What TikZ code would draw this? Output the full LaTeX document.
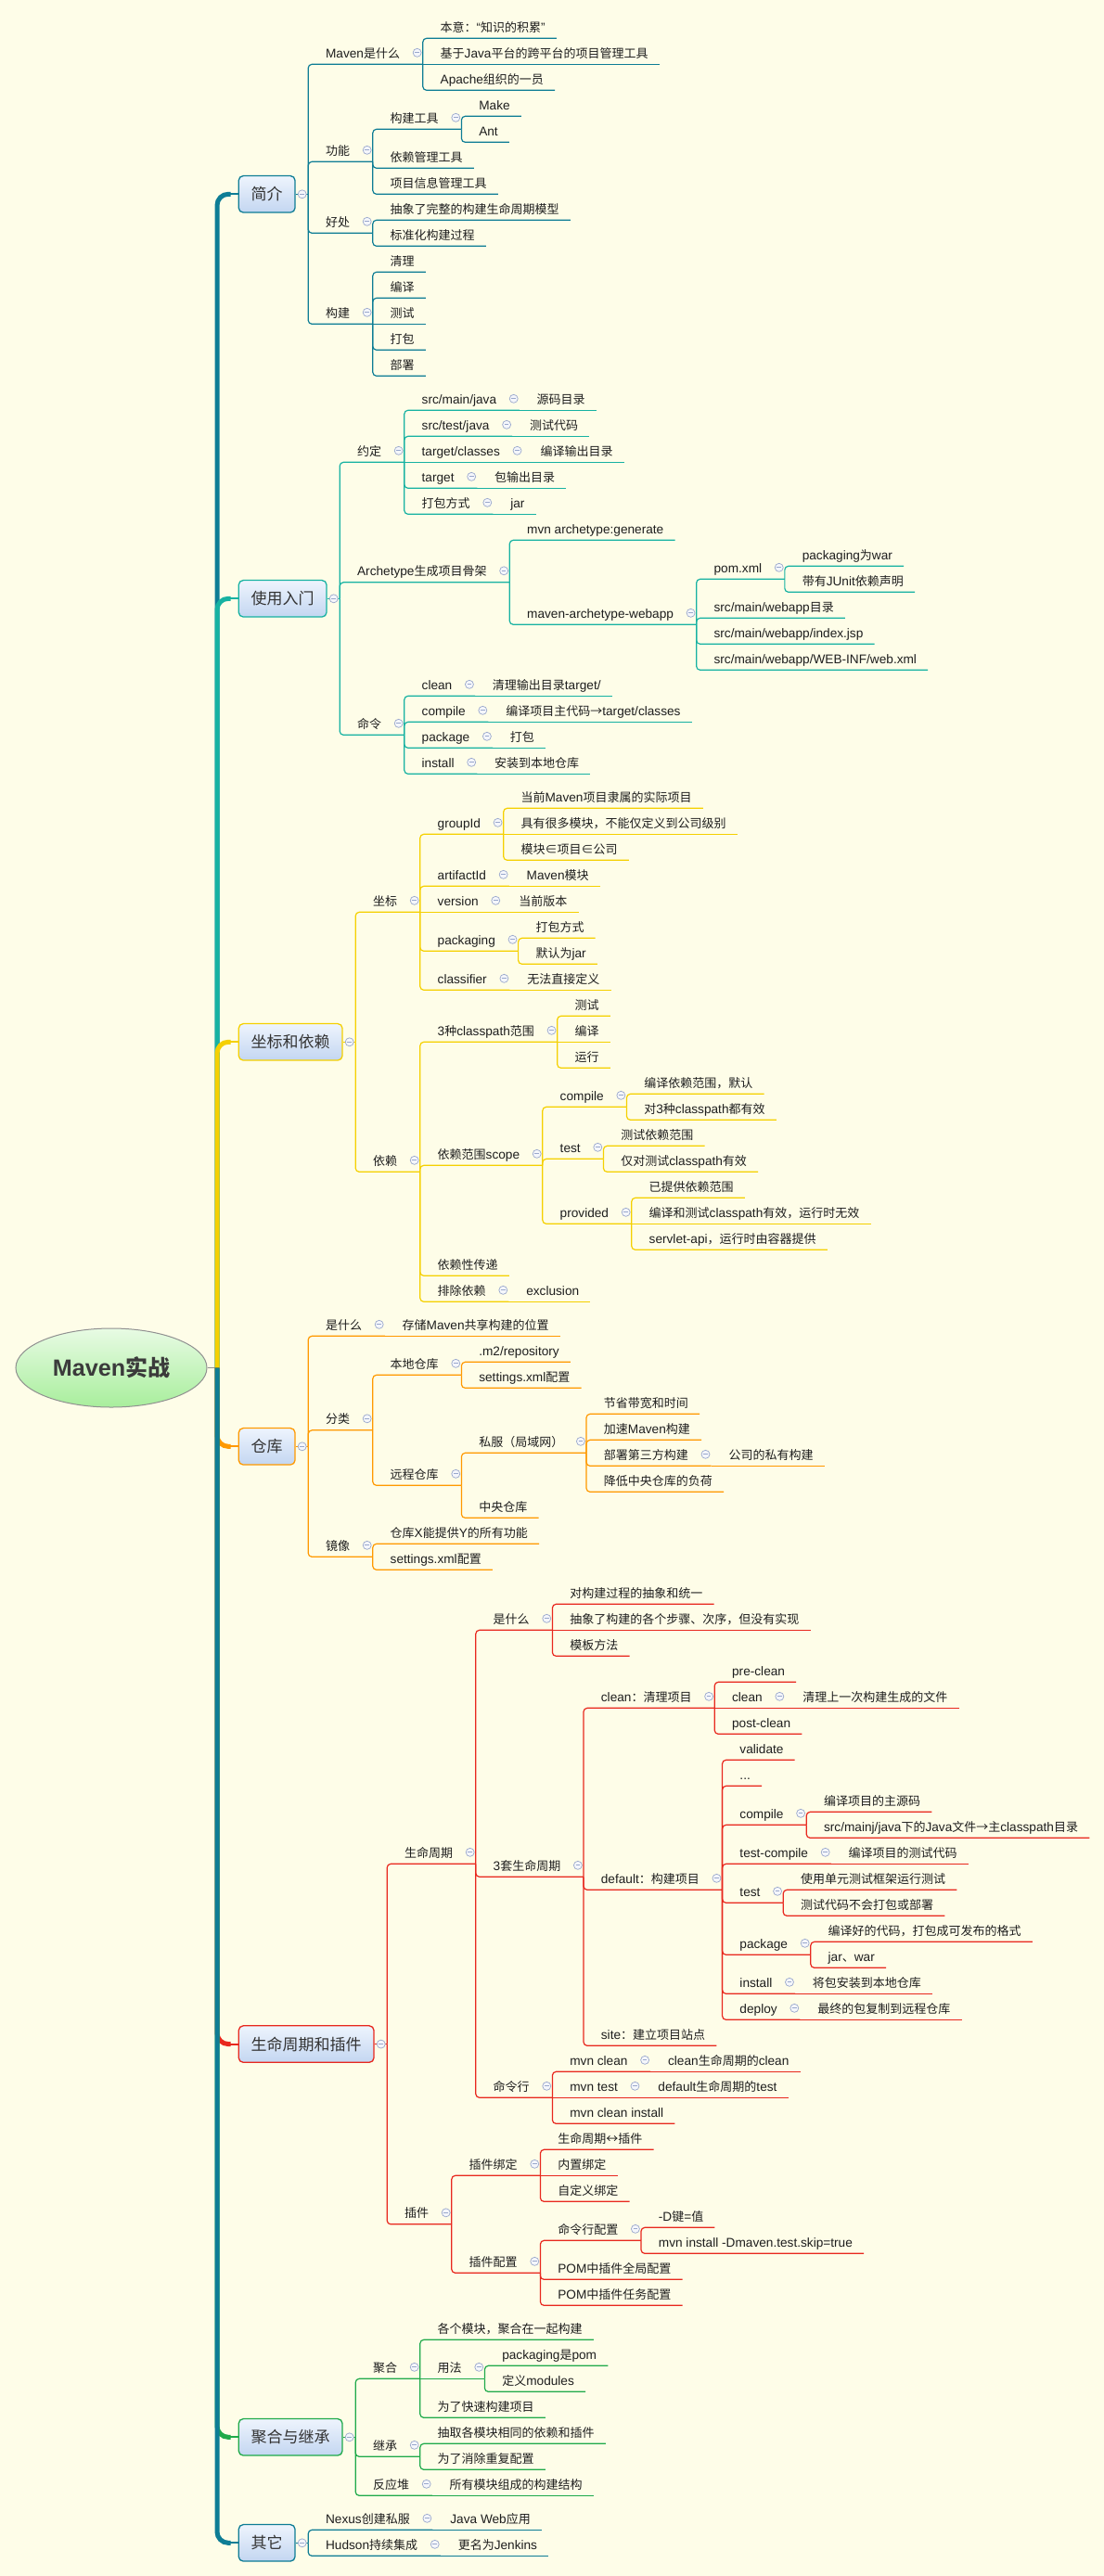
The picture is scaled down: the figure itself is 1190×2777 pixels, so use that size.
\documentclass[tikz,border=0pt]{standalone}
\usepackage{fontspec}
\setmainfont{Liberation Sans}[Scale=1.05]
\newfontfamily\latf{Liberation Sans}[Scale=1.05]
\newfontfamily\cjkf{Noto Sans CJK SC}
\usetikzlibrary{shapes.geometric}
\makeatletter
\chardef\mmcls=10
\def\mmsetcls#1#2{\@tempcnta=#1\relax
  \loop\XeTeXcharclass\@tempcnta=\mmcls\relax
  \ifnum\@tempcnta<#2\relax\advance\@tempcnta\@ne\repeat}
\mmsetcls{"2E80}{"9FFF}
\mmsetcls{"FF00}{"FFEF}
\XeTeXcharclass"2208=\mmcls
\XeTeXcharclass"2192=\mmcls
\XeTeXcharclass"2194=\mmcls
\makeatother
\XeTeXinterchartoks 0 \mmcls = {\cjkf}
\XeTeXinterchartoks 4095 \mmcls = {\cjkf}
\XeTeXinterchartoks \mmcls 0 = {\latf}
\XeTeXinterchartoks \mmcls 4095 = {\latf}
\XeTeXinterchartokenstate=1

\definecolor{bg}{HTML}{FEFDE8}
\definecolor{txtc}{HTML}{1E1E1E}
\definecolor{l1txt}{HTML}{333333}
\definecolor{col1}{HTML}{0E7D95}
\definecolor{col2}{HTML}{17B2A2}
\definecolor{col3}{HTML}{F5D000}
\definecolor{col4}{HTML}{FF9900}
\definecolor{col5}{HTML}{E8281E}
\definecolor{col6}{HTML}{1FAA4A}
\definecolor{col7}{HTML}{0E7D95}
\definecolor{collc}{HTML}{9AA8CC}
\definecolor{collf}{HTML}{F4F6FB}
\definecolor{boxt}{HTML}{EEF4FD}
\definecolor{boxb}{HTML}{C3D6F1}
\definecolor{roott}{HTML}{E8FBE4}
\definecolor{rootb}{HTML}{A8EE9C}
\definecolor{rootd}{HTML}{909090}
\definecolor{roottxt}{HTML}{3B3B3B}

\tikzset{
 txt/.style={inner sep=0pt, text=txtc, font=\fontsize{13}{15}\selectfont},
 br/.style={draw=#1, line width=1.2pt, rounded corners=4pt},
 cur/.style={br=col1},
 coll/.style={circle, draw=collc, fill=collf, line width=0.7pt, minimum size=9pt, inner sep=0pt,
   path picture={\draw[collc, line width=0.8pt] ([xshift=-2.3pt]path picture bounding box.center) -- ([xshift=2.3pt]path picture bounding box.center);}},
 l1box/.style={draw=#1, line width=1.3pt, rounded corners=5pt, top color=boxt, bottom color=boxb,
   minimum height=39.5pt, inner xsep=13.4pt, inner ysep=0pt, text=l1txt, font=\fontsize{17}{19}\selectfont},
 trunkline/.style={draw=#1, line width=5pt, rounded corners=12pt},
 trunkstub/.style={draw=#1, line width=2pt},
}

% leaf, elbow
\newcommand\mmL[4]{%
  \node[txt, anchor=base west, xshift=18.7pt, yshift=7pt] (#1) at (#2 |- 0,#3) {#4};
  \coordinate (#1-e) at ([xshift=12pt, yshift=-7pt]#1.base east);
  \draw[cur] (#2) |- (#1-e);}
% leaf, same line as parent
\newcommand\mmLh[4]{%
  \node[txt, anchor=base west, xshift=18.7pt, yshift=7pt] (#1) at (#2 |- 0,#3) {#4};
  \coordinate (#1-e) at ([xshift=12pt, yshift=-7pt]#1.base east);
  \draw[cur] (#2) -- (#1-e);}
% parent, elbow
\newcommand\mmP[4]{%
  \node[txt, anchor=base west, xshift=18.7pt, yshift=7pt] (#1) at (#2 |- 0,#3) {#4};
  \coordinate (#1-j) at ([xshift=24.5pt, yshift=-7pt]#1.base east);
  \draw[cur] (#2) |- (#1-j);
  \node[coll] (#1-c) at ([xshift=18.4pt, yshift=5.5pt]#1.base east) {};}
% parent, same line as parent
\newcommand\mmPh[4]{%
  \node[txt, anchor=base west, xshift=18.7pt, yshift=7pt] (#1) at (#2 |- 0,#3) {#4};
  \coordinate (#1-j) at ([xshift=24.5pt, yshift=-7pt]#1.base east);
  \draw[cur] (#2) -- (#1-j);
  \node[coll] (#1-c) at ([xshift=18.4pt, yshift=5.5pt]#1.base east) {};}
% level-1 box
\newcommand\mmB[4]{%
  \node[l1box=#3, anchor=west] (#1) at (256.6,#2) {#4};
  \draw[trunkline=#3] (tr) |- ([xshift=-8pt]#1.west);
  \draw[trunkstub=#3] ([xshift=-12pt]#1.west) -- (#1.west);
  \coordinate (#1-j) at ([xshift=13.5pt]#1.east);
  \draw[br=#3] (#1.east) -- (#1-j);
  \node[coll] (#1-c) at ([xshift=7pt]#1.east) {};
  \tikzset{cur/.style={br=#3}}}

\begin{document}
\begin{tikzpicture}[x=1pt,y=-1pt]
\useasboundingbox (0,0) rectangle (1190,2777);
\fill[bg] (0,0) rectangle (1190,2777);

\node[ellipse, draw=rootd, line width=1pt, top color=roott, bottom color=rootb,
  minimum width=206pt, minimum height=85pt, inner sep=0pt,
  font=\bfseries\fontsize{24}{26}\selectfont, text=roottxt] (root) at (120,1474.5) {Maven实战};
\coordinate (tr) at (234,1474.5);
\draw[rootd, line width=1pt] (root.east) -- (tr);

% ---------- 简介
\mmB{s1}{209.3}{col1}{简介}
\mmP{a1}{s1-j}{69.3}{Maven是什么}
 \mmL{a11}{a1-j}{41.3}{本意：“知识的积累”}
 \mmLh{a12}{a1-j}{69.3}{基于Java平台的跨平台的项目管理工具}
 \mmL{a13}{a1-j}{97.3}{Apache组织的一员}
\mmP{a2}{s1-j}{174.3}{功能}
 \mmP{a21}{a2-j}{139.3}{构建工具}
  \mmL{a211}{a21-j}{125.3}{Make}
  \mmL{a212}{a21-j}{153.3}{Ant}
 \mmL{a22}{a2-j}{181.3}{依赖管理工具}
 \mmL{a23}{a2-j}{209.3}{项目信息管理工具}
\mmP{a3}{s1-j}{251.3}{好处}
 \mmL{a31}{a3-j}{237.3}{抽象了完整的构建生命周期模型}
 \mmL{a32}{a3-j}{265.3}{标准化构建过程}
\mmP{a4}{s1-j}{349.3}{构建}
 \mmL{a41}{a4-j}{293.3}{清理}
 \mmL{a42}{a4-j}{321.3}{编译}
 \mmLh{a43}{a4-j}{349.3}{测试}
 \mmL{a44}{a4-j}{377.3}{打包}
 \mmL{a45}{a4-j}{405.3}{部署}

% ---------- 使用入门
\mmB{s2}{645.3}{col2}{使用入门}
\mmP{b1}{s2-j}{498.3}{约定}
 \mmP{b11}{b1-j}{442.3}{src/main/java} \mmLh{b111}{b11-j}{442.3}{源码目录}
 \mmP{b12}{b1-j}{470.3}{src/test/java} \mmLh{b121}{b12-j}{470.3}{测试代码}
 \mmPh{b13}{b1-j}{498.3}{target/classes} \mmLh{b131}{b13-j}{498.3}{编译输出目录}
 \mmP{b14}{b1-j}{526.3}{target} \mmLh{b141}{b14-j}{526.3}{包输出目录}
 \mmP{b15}{b1-j}{554.3}{打包方式} \mmLh{b151}{b15-j}{554.3}{jar}
\mmP{b2}{s2-j}{627.8}{Archetype生成项目骨架}
 \mmL{b21}{b2-j}{582.3}{mvn archetype:generate}
 \mmP{b22}{b2-j}{673.3}{maven-archetype-webapp}
  \mmP{b221}{b22-j}{624.3}{pom.xml}
   \mmL{b2211}{b221-j}{610.3}{packaging为war}
   \mmL{b2212}{b221-j}{638.3}{带有JUnit依赖声明}
  \mmL{b222}{b22-j}{666.3}{src/main/webapp目录}
  \mmL{b223}{b22-j}{694.3}{src/main/webapp/index.jsp}
  \mmL{b224}{b22-j}{722.3}{src/main/webapp/WEB-INF/web.xml}
\mmP{b3}{s2-j}{792.3}{命令}
 \mmP{b31}{b3-j}{750.3}{clean} \mmLh{b311}{b31-j}{750.3}{清理输出目录target/}
 \mmP{b32}{b3-j}{778.3}{compile} \mmLh{b321}{b32-j}{778.3}{编译项目主代码→target/classes}
 \mmP{b33}{b3-j}{806.3}{package} \mmLh{b331}{b33-j}{806.3}{打包}
 \mmP{b34}{b3-j}{834.3}{install} \mmLh{b341}{b34-j}{834.3}{安装到本地仓库}

% ---------- 坐标和依赖
\mmB{s3}{1123.3}{col3}{坐标和依赖}
\mmP{c1}{s3-j}{983.3}{坐标}
 \mmP{c11}{c1-j}{899.3}{groupId}
  \mmL{c111}{c11-j}{871.3}{当前Maven项目隶属的实际项目}
  \mmLh{c112}{c11-j}{899.3}{具有很多模块，不能仅定义到公司级别}
  \mmL{c113}{c11-j}{927.3}{模块∈项目∈公司}
 \mmP{c12}{c1-j}{955.3}{artifactId} \mmLh{c121}{c12-j}{955.3}{Maven模块}
 \mmPh{c13}{c1-j}{983.3}{version} \mmLh{c131}{c13-j}{983.3}{当前版本}
 \mmP{c14}{c1-j}{1025.3}{packaging}
  \mmL{c141}{c14-j}{1011.3}{打包方式}
  \mmL{c142}{c14-j}{1039.3}{默认为jar}
 \mmP{c15}{c1-j}{1067.3}{classifier} \mmLh{c151}{c15-j}{1067.3}{无法直接定义}
\mmP{c2}{s3-j}{1263.3}{依赖}
 \mmP{c21}{c2-j}{1123.3}{3种classpath范围}
  \mmL{c211}{c21-j}{1095.3}{测试}
  \mmLh{c212}{c21-j}{1123.3}{编译}
  \mmL{c213}{c21-j}{1151.3}{运行}
 \mmP{c22}{c2-j}{1256.3}{依赖范围scope}
  \mmP{c221}{c22-j}{1193.3}{compile}
   \mmL{c2211}{c221-j}{1179.3}{编译依赖范围，默认}
   \mmL{c2212}{c221-j}{1207.3}{对3种classpath都有效}
  \mmP{c222}{c22-j}{1249.3}{test}
   \mmL{c2221}{c222-j}{1235.3}{测试依赖范围}
   \mmL{c2222}{c222-j}{1263.3}{仅对测试classpath有效}
  \mmP{c223}{c22-j}{1319.3}{provided}
   \mmL{c2231}{c223-j}{1291.3}{已提供依赖范围}
   \mmLh{c2232}{c223-j}{1319.3}{编译和测试classpath有效，运行时无效}
   \mmL{c2233}{c223-j}{1347.3}{servlet-api，运行时由容器提供}
 \mmL{c23}{c2-j}{1375.3}{依赖性传递}
 \mmP{c24}{c2-j}{1403.3}{排除依赖} \mmLh{c241}{c24-j}{1403.3}{exclusion}

% ---------- 仓库
\mmB{s4}{1559.3}{col4}{仓库}
\mmP{d1}{s4-j}{1440.3}{是什么} \mmLh{d11}{d1-j}{1440.3}{存储Maven共享构建的位置}
\mmP{d2}{s4-j}{1541.8}{分类}
 \mmP{d21}{d2-j}{1482.3}{本地仓库}
  \mmL{d211}{d21-j}{1468.3}{.m2/repository}
  \mmL{d212}{d21-j}{1496.3}{settings.xml配置}
 \mmP{d22}{d2-j}{1601.3}{远程仓库}
  \mmP{d221}{d22-j}{1566.3}{私服（局域网）}
   \mmL{d2211}{d221-j}{1524.3}{节省带宽和时间}
   \mmL{d2212}{d221-j}{1552.3}{加速Maven构建}
   \mmP{d2213}{d221-j}{1580.3}{部署第三方构建} \mmLh{d22131}{d2213-j}{1580.3}{公司的私有构建}
   \mmL{d2214}{d221-j}{1608.3}{降低中央仓库的负荷}
  \mmL{d222}{d22-j}{1636.3}{中央仓库}
\mmP{d3}{s4-j}{1678.3}{镜像}
 \mmL{d31}{d3-j}{1664.3}{仓库X能提供Y的所有功能}
 \mmL{d32}{d3-j}{1692.3}{settings.xml配置}

% ---------- 生命周期和插件
\mmB{s5}{2203.55}{col5}{生命周期和插件}
\mmP{e1}{s5-j}{2009.3}{生命周期}
 \mmP{e11}{e1-j}{1757.3}{是什么}
  \mmL{e111}{e11-j}{1729.3}{对构建过程的抽象和统一}
  \mmLh{e112}{e11-j}{1757.3}{抽象了构建的各个步骤、次序，但没有实现}
  \mmL{e113}{e11-j}{1785.3}{模板方法}
 \mmP{e12}{e1-j}{2023.3}{3套生命周期}
  \mmP{e121}{e12-j}{1841.3}{clean：清理项目}
   \mmL{e1211}{e121-j}{1813.3}{pre-clean}
   \mmPh{e1212}{e121-j}{1841.3}{clean} \mmLh{e12121}{e1212-j}{1841.3}{清理上一次构建生成的文件}
   \mmL{e1213}{e121-j}{1869.3}{post-clean}
  \mmP{e122}{e12-j}{2037.3}{default：构建项目}
   \mmL{e1221}{e122-j}{1897.3}{validate}
   \mmL{e1222}{e122-j}{1925.3}{...}
   \mmP{e1223}{e122-j}{1967.3}{compile}
    \mmL{e12231}{e1223-j}{1953.3}{编译项目的主源码}
    \mmL{e12232}{e1223-j}{1981.3}{src/mainj/java下的Java文件→主classpath目录}
   \mmP{e1224}{e122-j}{2009.3}{test-compile} \mmLh{e12241}{e1224-j}{2009.3}{编译项目的测试代码}
   \mmP{e1225}{e122-j}{2051.3}{test}
    \mmL{e12251}{e1225-j}{2037.3}{使用单元测试框架运行测试}
    \mmL{e12252}{e1225-j}{2065.3}{测试代码不会打包或部署}
   \mmP{e1226}{e122-j}{2107.3}{package}
    \mmL{e12261}{e1226-j}{2093.3}{编译好的代码，打包成可发布的格式}
    \mmL{e12262}{e1226-j}{2121.3}{jar、war}
   \mmP{e1227}{e122-j}{2149.3}{install} \mmLh{e12271}{e1227-j}{2149.3}{将包安装到本地仓库}
   \mmP{e1228}{e122-j}{2177.3}{deploy} \mmLh{e12281}{e1228-j}{2177.3}{最终的包复制到远程仓库}
  \mmL{e123}{e12-j}{2205.3}{site：建立项目站点}
 \mmP{e13}{e1-j}{2261.3}{命令行}
  \mmP{e131}{e13-j}{2233.3}{mvn clean} \mmLh{e1311}{e131-j}{2233.3}{clean生命周期的clean}
  \mmPh{e132}{e13-j}{2261.3}{mvn test} \mmLh{e1321}{e132-j}{2261.3}{default生命周期的test}
  \mmL{e133}{e13-j}{2289.3}{mvn clean install}
\mmP{e2}{s5-j}{2397.8}{插件}
 \mmP{e21}{e2-j}{2345.3}{插件绑定}
  \mmL{e211}{e21-j}{2317.3}{生命周期↔插件}
  \mmLh{e212}{e21-j}{2345.3}{内置绑定}
  \mmL{e213}{e21-j}{2373.3}{自定义绑定}
 \mmP{e22}{e2-j}{2450.3}{插件配置}
  \mmP{e221}{e22-j}{2415.3}{命令行配置}
   \mmL{e2211}{e221-j}{2401.3}{-D键=值}
   \mmL{e2212}{e221-j}{2429.3}{mvn install -Dmaven.test.skip=true}
  \mmL{e222}{e22-j}{2457.3}{POM中插件全局配置}
  \mmL{e223}{e22-j}{2485.3}{POM中插件任务配置}

% ---------- 聚合与继承
\mmB{s6}{2627.3}{col6}{聚合与继承}
\mmP{f1}{s6-j}{2564.3}{聚合}
 \mmL{f11}{f1-j}{2522.3}{各个模块，聚合在一起构建}
 \mmPh{f12}{f1-j}{2564.3}{用法}
  \mmL{f121}{f12-j}{2550.3}{packaging是pom}
  \mmL{f122}{f12-j}{2578.3}{定义modules}
 \mmL{f13}{f1-j}{2606.3}{为了快速构建项目}
\mmP{f2}{s6-j}{2648.3}{继承}
 \mmL{f21}{f2-j}{2634.3}{抽取各模块相同的依赖和插件}
 \mmL{f22}{f2-j}{2662.3}{为了消除重复配置}
\mmP{f3}{s6-j}{2690.3}{反应堆} \mmLh{f31}{f3-j}{2690.3}{所有模块组成的构建结构}

% ---------- 其它
\mmB{s7}{2741.3}{col7}{其它}
\mmP{g1}{s7-j}{2727.3}{Nexus创建私服} \mmLh{g11}{g1-j}{2727.3}{Java Web应用}
\mmP{g2}{s7-j}{2755.3}{Hudson持续集成} \mmLh{g21}{g2-j}{2755.3}{更名为Jenkins}
\end{tikzpicture}
\end{document}
